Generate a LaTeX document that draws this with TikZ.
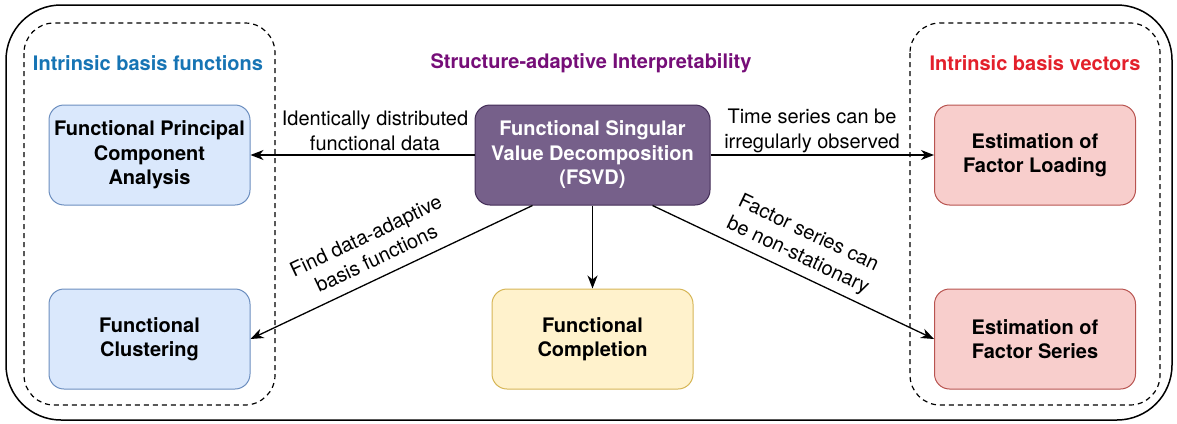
\documentclass[tikz,border=0pt]{standalone}
\usepackage{fontspec}
\setmainfont{TeX Gyre Heros}
\usetikzlibrary{arrows.meta,calc}
\definecolor{blueFill}{HTML}{DAE8FC}
\definecolor{blueLine}{HTML}{6C8EBF}
\definecolor{purpleFill}{HTML}{76608A}
\definecolor{purpleLine}{HTML}{432D57}
\definecolor{yellowFill}{HTML}{FFF2CC}
\definecolor{yellowLine}{HTML}{D6B656}
\definecolor{redFill}{HTML}{F8CECC}
\definecolor{redLine}{HTML}{B85450}
\definecolor{titleBlue}{HTML}{1674B4}
\definecolor{titlePurple}{HTML}{760E78}
\definecolor{titleRed}{HTML}{E3202B}
\tikzset{
  txt/.style={font=\fontsize{20}{24.5}\selectfont, align=center},
  boxbase/.style={txt, font=\fontsize{20}{24.5}\selectfont\bfseries, rounded corners=15pt,
    minimum width=201pt, minimum height=100pt, line width=1pt},
  bluebox/.style={boxbase, draw=blueLine, fill=blueFill},
  redbox/.style={boxbase, draw=redLine, fill=redFill},
  yellowbox/.style={boxbase, draw=yellowLine, fill=yellowFill},
  purplebox/.style={boxbase, draw=purpleLine, fill=purpleFill, text=white, minimum width=235pt},
  heading/.style={txt, font=\fontsize{20}{24.5}\selectfont\bfseries},
  conn/.style={line width=1.3pt, -{Stealth[length=13pt,width=10pt,inset=4pt]}},
  group/.style={draw, dashed, dash pattern=on 5pt off 4pt, line width=1.2pt, rounded corners=30pt},
}
\begin{document}
\begin{tikzpicture}[x=1pt,y=-1pt]
\useasboundingbox (0,0) rectangle (1177,423);
% frames
\draw[line width=1.5pt, rounded corners=55pt] (6,5) rectangle (1172,420);
\draw[group] (24,23) rectangle (275,405);
\draw[group] (910,23) rectangle (1160,405);
% headings
\node[heading, text=titleBlue] (hleft) at (148,63) {Intrinsic basis functions};
\node[heading, text=titlePurple] (hmid) at (591,63) {Structure-adaptive Interpretability};
\node[heading, text=titleRed] (hright) at (1035,63) {Intrinsic basis vectors};
% boxes
\node[purplebox] (fsvd) at (592.5,155) {Functional Singular\\Value Decomposition\\(FSVD)};
\node[bluebox] (fpca) at (149.5,155) {Functional Principal\\Component\\Analysis};
\node[bluebox] (clus) at (149.5,339) {Functional\\Clustering};
\node[yellowbox] (comp) at (592.5,339) {Functional\\Completion};
\node[redbox] (load) at (1035,155) {Estimation of\\Factor Loading};
\node[redbox] (series) at (1035,339) {Estimation of\\Factor Series};
% connectors
\draw[conn] (fsvd.west) -- (fpca.east);
\draw[conn] (fsvd.east) -- (load.west);
\draw[conn] (fsvd.south) -- (comp.north);
\coordinate (dl) at ($(fsvd.south west)+(58,0)$);
\coordinate (dr) at ($(fsvd.south east)+(-58,0)$);
\draw[conn] (dl) -- (clus.east);
\draw[conn] (dr) -- (series.west);
% connector labels
\node[txt] (lab1) at (375,131) {Identically distributed\\functional data};
\node[txt] (lab2) at (812,131) {Time series can be\\irregularly observed};
\node[txt, rotate=25.3] (lab3) at (371,247) {Find data-adaptive\\basis functions};
\node[txt, rotate=-25.4] (lab4) at (803,245) {Factor series can\\be non-stationary};
\end{tikzpicture}
\end{document}
